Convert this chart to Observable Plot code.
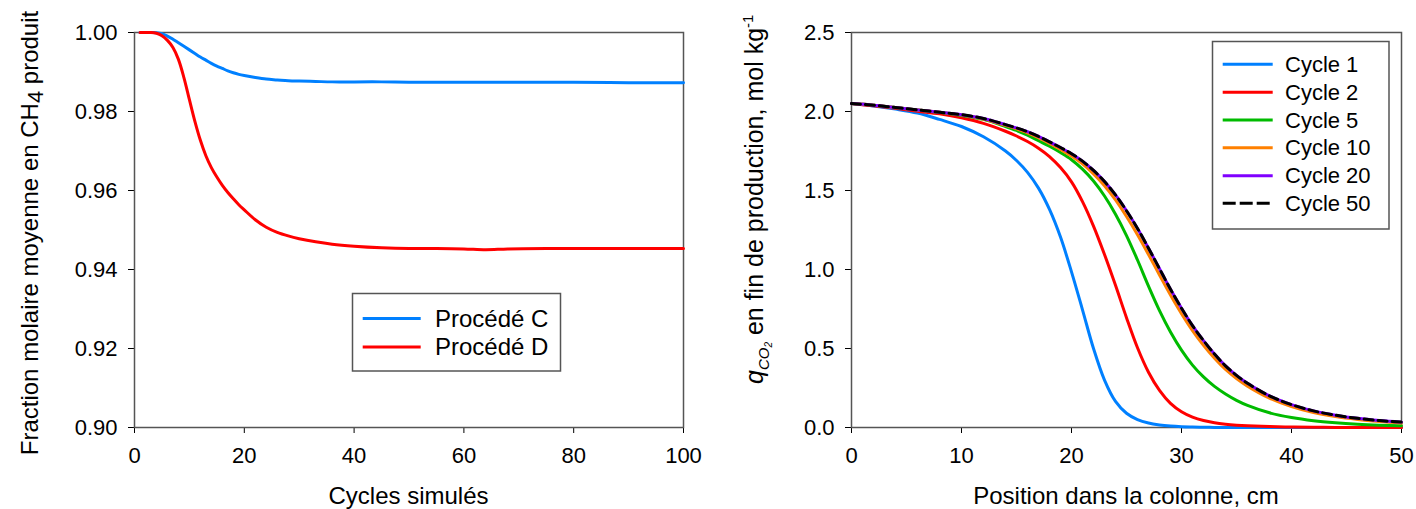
<!DOCTYPE html>
<html><head><meta charset="utf-8">
<script src="https://cdn.jsdelivr.net/npm/d3@7"></script>
<script src="https://cdn.jsdelivr.net/npm/@observablehq/plot@0.6"></script>
<style>
html,body{margin:0;padding:0;background:#fff;}
#wrap{position:relative;width:1416px;height:509px;overflow:hidden;background:#fff;}
#left,#right{position:absolute;top:0;}
#left{left:0;} #right{left:708px;}
</style></head><body><div id="wrap"><div id="left"></div><div id="right"></div></div>
<script>
// ---------- Left panel data ----------
const cycles = [1,2,3,4,5,6,7,8,9,10,11,12,13,14,15,16,17,18,19,20,22,24,26,28,30,33,36,40,45,50,55,60,64,68,75,80,90,100];
const procedeC = [1.0000,1.0000,1.0000,0.99995,0.9997,0.9991,0.9983,0.9974,0.9965,0.9956,0.9947,0.9938,0.9930,0.9922,0.9915,0.9909,0.9903,0.9898,0.9894,0.9891,0.9886,0.9882,0.9880,0.9878,0.9877,0.9876,0.9875,0.9875,0.9875,0.9874,0.9874,0.9874,0.9874,0.9874,0.9874,0.9874,0.9873,0.9873];
const procedeD = [1.0000,1.0000,1.0000,0.9998,0.9992,0.9980,0.9962,0.9932,0.9886,0.9830,0.9775,0.9727,0.9688,0.9658,0.9634,0.9613,0.9595,0.9579,0.9564,0.9551,0.9526,0.9507,0.9494,0.9485,0.9478,0.9470,0.9464,0.9459,0.9455,0.9453,0.9453,0.9452,0.9450,0.9452,0.9453,0.9453,0.9453,0.9453];
const leftSeries = ["Procédé C","Procédé D"];
const leftXTicks = [0,20,40,60,80,100];
const leftYTicks = [0.90,0.92,0.94,0.96,0.98,1.00];

// ---------- Right panel data ----------
const positions = [0,2,4,6,8,10,12,14,15,16,17,18,19,20,21,22,23,24,25,26,27,28,29,30,31,32,33,34,35,36,38,40,42,44,46,48,50];
const cycle1  = [2.05,2.035,2.015,1.99,1.95,1.905,1.84,1.75,1.69,1.615,1.515,1.38,1.205,0.985,0.745,0.50,0.30,0.165,0.09,0.05,0.028,0.016,0.009,0.005,0.003,0.0015,0.0007,0,0,0,0,0,0,0,0,0,0];
const cycle2  = [2.05,2.036,2.02,2.002,1.985,1.96,1.925,1.875,1.845,1.81,1.768,1.715,1.645,1.555,1.43,1.275,1.095,0.90,0.695,0.505,0.35,0.235,0.153,0.10,0.066,0.044,0.03,0.021,0.015,0.011,0.006,0.003,0.0015,0.0007,0,0,0];
const cycle5  = [2.05,2.04,2.025,2.01,1.995,1.975,1.95,1.905,1.88,1.85,1.815,1.78,1.74,1.695,1.635,1.56,1.465,1.35,1.215,1.06,0.895,0.74,0.605,0.49,0.395,0.32,0.26,0.212,0.172,0.14,0.093,0.063,0.043,0.03,0.021,0.015,0.011];
const cycle10 = [2.05,2.04,2.025,2.01,1.995,1.978,1.952,1.912,1.89,1.865,1.834,1.798,1.76,1.718,1.668,1.605,1.53,1.44,1.335,1.22,1.095,0.965,0.838,0.72,0.613,0.52,0.438,0.367,0.31,0.262,0.186,0.133,0.095,0.069,0.051,0.038,0.028];
const cycle20 = [2.05,2.04,2.025,2.01,1.995,1.98,1.956,1.917,1.896,1.872,1.842,1.808,1.772,1.733,1.686,1.627,1.557,1.472,1.372,1.26,1.135,1.005,0.875,0.755,0.645,0.55,0.465,0.39,0.33,0.28,0.20,0.145,0.105,0.078,0.058,0.044,0.034];
const cycle50 = [2.05,2.04,2.025,2.01,1.995,1.98,1.956,1.917,1.896,1.872,1.842,1.808,1.772,1.733,1.686,1.627,1.557,1.472,1.372,1.26,1.135,1.005,0.875,0.755,0.645,0.55,0.465,0.39,0.33,0.28,0.20,0.145,0.105,0.078,0.058,0.044,0.034];
const rightSeries = ["Cycle 1","Cycle 2","Cycle 5","Cycle 10","Cycle 20","Cycle 50"];
const rightXTicks = [0,10,20,30,40,50];
const rightYTicks = [0,0.5,1.0,1.5,2.0,2.5];

const FONT = "Arial, 'Liberation Sans', sans-serif";
const leftColors = ["#0080FF","#FF0000"];
const rightColors = ["#0080FF","#FF0000","#00BB00","#FF8000","#8000FF","#000000"];

const leftRows = [];
[procedeC, procedeD].forEach((arr, s) => arr.forEach((v, i) => leftRows.push({series: leftSeries[s], cycle: cycles[i], frac: v})));
const rightRows = [];
[cycle1, cycle2, cycle5, cycle10, cycle20, cycle50].forEach((arr, s) => arr.forEach((v, i) => rightRows.push({series: rightSeries[s], pos: positions[i], q: v})));

const common = {
  width: 708, height: 509, marginTop: 32, marginBottom: 82,
  style: {fontFamily: FONT, fontSize: "22px", color: "#000", background: "transparent", overflow: "visible"}
};

const leftPlot = Plot.plot({
  ...common, marginLeft: 134, marginRight: 25,
  x: {domain: [0, 100], ticks: leftXTicks, tickSize: 6, tickPadding: 14, label: null},
  y: {domain: [0.9, 1.0], ticks: leftYTicks, tickFormat: d3.format(".2f"), tickSize: 6, tickPadding: 11, label: null},
  marks: [
    Plot.frame({stroke: "#555", strokeWidth: 1.5}),
    Plot.line(leftRows.filter(d => d.series === leftSeries[0]), {x: "cycle", y: "frac", stroke: leftColors[0], strokeWidth: 3, curve: "catmull-rom"}),
    Plot.line(leftRows.filter(d => d.series === leftSeries[1]), {x: "cycle", y: "frac", stroke: leftColors[1], strokeWidth: 3, curve: "catmull-rom"})
  ]
});

const rightMarks = [Plot.frame({stroke: "#555", strokeWidth: 1.5})];
rightSeries.forEach((name, s) => {
  rightMarks.push(Plot.line(rightRows.filter(d => d.series === name), {
    x: "pos", y: "q", stroke: rightColors[s], strokeWidth: 3, curve: "catmull-rom",
    strokeDasharray: name === "Cycle 50" ? "9,5" : null
  }));
});
const rightPlot = Plot.plot({
  ...common, marginLeft: 143, marginRight: 15,
  x: {domain: [0, 50], ticks: rightXTicks, tickSize: 6, tickPadding: 14, label: null},
  y: {domain: [0, 2.5], ticks: rightYTicks, tickFormat: d3.format(".1f"), tickSize: 6, tickPadding: 11, label: null},
  marks: rightMarks
});

document.getElementById("left").appendChild(leftPlot);
document.getElementById("right").appendChild(rightPlot);

// ---------- Titles ----------
const L = d3.select(leftPlot), R = d3.select(rightPlot);
L.append("text").attr("x", 408.5).attr("y", 504).attr("text-anchor", "middle")
  .attr("font-size", 24).attr("fill", "#000").text("Cycles simulés");
R.append("text").attr("x", 143 + 275).attr("y", 504).attr("text-anchor", "middle")
  .attr("font-size", 24).attr("fill", "#000").text("Position dans la colonne, cm");

const ly = L.append("text").attr("transform", "translate(38,233) rotate(-90)").attr("text-anchor", "middle")
  .attr("font-size", 24).attr("fill", "#000");
ly.append("tspan").text("Fraction molaire moyenne en CH");
ly.append("tspan").attr("dy", 5).attr("font-size", 22).text("4");
ly.append("tspan").attr("dy", -5).text(" produit");

const ry = R.append("text").attr("transform", "translate(55,384) rotate(-90)").attr("text-anchor", "start")
  .attr("font-size", 25).attr("fill", "#000");
ry.append("tspan").attr("font-style", "italic").text("q");
ry.append("tspan").attr("dy", 6).attr("font-size", 15).attr("font-style", "italic").text("CO");
ry.append("tspan").attr("dy", 3).attr("font-size", 10).attr("font-style", "italic").text("2");
ry.append("tspan").attr("dy", -9).text(" en fin de production, mol kg");
ry.append("tspan").attr("dy", -10).attr("font-size", 15).text("-1");

// ---------- Legends ----------
function legend(sel, box, rows, x1, x2, tx, fs, names, colors, dashIdx) {
  sel.append("rect").attr("x", box[0]).attr("y", box[1]).attr("width", box[2] - box[0]).attr("height", box[3] - box[1])
    .attr("fill", "#fff").attr("stroke", "#555").attr("stroke-width", 1.5);
  names.forEach((n, i) => {
    sel.append("line").attr("x1", x1).attr("x2", x2).attr("y1", rows[i]).attr("y2", rows[i])
      .attr("stroke", colors[i]).attr("stroke-width", 3)
      .attr("stroke-dasharray", i === dashIdx ? "13,4" : null);
    sel.append("text").attr("x", tx).attr("y", rows[i]).attr("dy", "0.35em").attr("font-size", fs)
      .attr("text-anchor", "start").attr("fill", "#000").text(n);
  });
}
legend(L, [352.5, 293.5, 560.5, 371], [318.5, 347], 362.7, 420.7, 435, 24, leftSeries, leftColors, -1);
legend(R, [504.5, 41.5, 681, 229], [64.3, 92.3, 120, 147.7, 175.7, 203.3], 514.7, 564.7, 577, 22, rightSeries, rightColors, 5);
</script></body></html>
